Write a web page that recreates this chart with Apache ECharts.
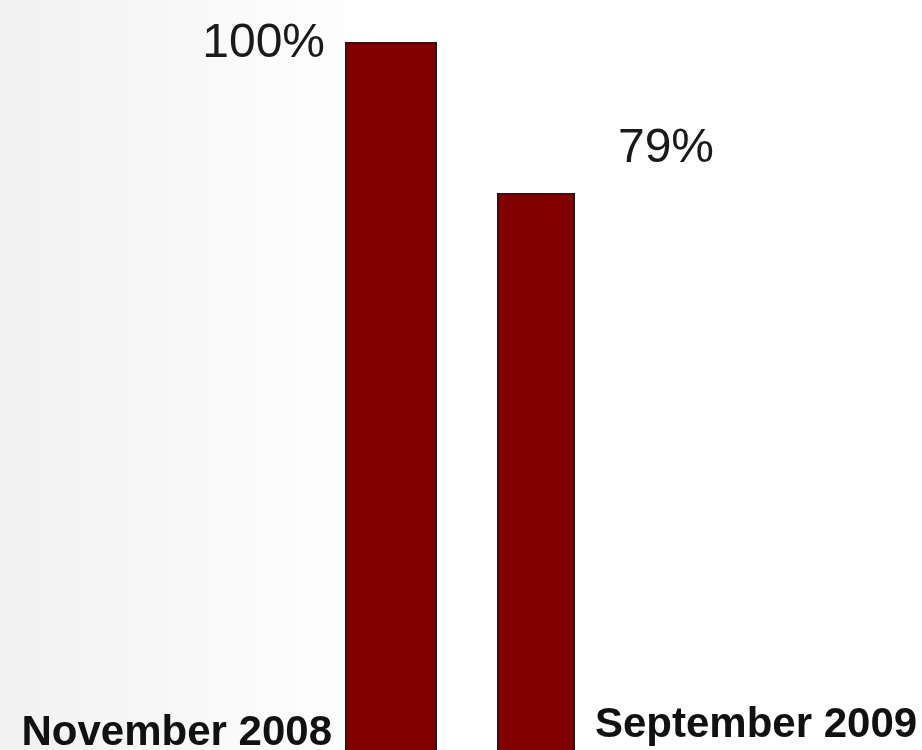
<!DOCTYPE html>
<html>
<head>
<meta charset="utf-8">
<script src="https://cdn.jsdelivr.net/npm/echarts@6/dist/echarts.min.js"></script>
<style>
  html, body { margin: 0; padding: 0; background: #fff; }
  #chart { width: 922px; height: 750px; }
</style>
</head>
<body>
<div id="chart"></div>
<script>
const categories = ['November 2008', 'September 2009'];
const shares = [100, 79];
const valueLabels = ['100%', '79%'];

const chart = echarts.init(document.getElementById('chart'));

const barColor = '#800000';

const options = {
  animation: false,
  backgroundColor: {
    type: 'linear', x: 0, y: 0, x2: 1, y2: 0,
    colorStops: [
      { offset: 0, color: '#f1f1f1' },
      { offset: 0.4, color: '#ffffff' },
      { offset: 1, color: '#ffffff' }
    ]
  },
  grid: { left: 308, right: 310, top: 42, bottom: -11, outerBoundsMode: 'none' },
  xAxis: {
    type: 'category',
    data: [
      // per-label nudges so the dates sit beside the bars, not under them
      { value: categories[0], textStyle: { align: 'right', padding: [8, 52, 0, 0] } },
      { value: categories[1], textStyle: { align: 'left', padding: [0, 0, 0, 59] } }
    ],
    axisLine: { show: false },
    axisTick: { show: false },
    axisLabel: {
      interval: 0,
      margin: -57,
      fontFamily: 'Liberation Sans, Arial, sans-serif',
      fontWeight: 'bold',
      fontSize: 42,
      lineHeight: 42,
      color: '#111'
    }
  },
  yAxis: {
    type: 'value',
    min: 0,
    max: 100,
    show: false,
    splitLine: { show: false }
  },
  series: [
    {
      type: 'bar',
      barWidth: 92,
      barGap: '-100%',
      data: [shares[0], '-'],
      itemStyle: { color: barColor, borderColor: '#1a1a1a', borderWidth: 1.5 },
      label: {
        show: true,
        position: [-20, 2],
        align: 'right',
        verticalAlign: 'middle',
        formatter: () => valueLabels[0],
        fontFamily: 'Liberation Sans, Arial, sans-serif',
        fontSize: 48,
        color: '#1a1a1a'
      }
    },
    {
      type: 'bar',
      barWidth: 78,
      barGap: '-100%',
      data: ['-', shares[1]],
      itemStyle: { color: barColor, borderColor: '#1a1a1a', borderWidth: 1.5 },
      label: {
        show: true,
        position: [169, -44],
        align: 'center',
        verticalAlign: 'middle',
        formatter: () => valueLabels[1],
        fontFamily: 'Liberation Sans, Arial, sans-serif',
        fontSize: 48,
        color: '#1a1a1a'
      }
    }
  ]
};

chart.setOption(options);
</script>
</body>
</html>
